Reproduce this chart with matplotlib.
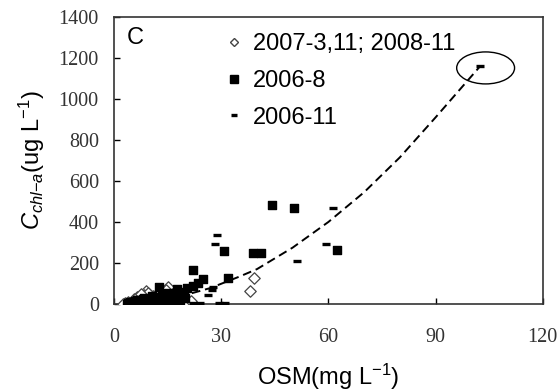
import matplotlib
matplotlib.use("Agg")
import matplotlib.pyplot as plt
from matplotlib.lines import Line2D
from matplotlib.patches import Ellipse

plt.rcParams['font.family'] = ['Liberation Sans', 'DejaVu Sans']
plt.rcParams['mathtext.fontset'] = 'custom'
plt.rcParams['mathtext.rm'] = 'Liberation Sans'
plt.rcParams['mathtext.it'] = 'Liberation Sans:italic'
plt.rcParams['mathtext.bf'] = 'Liberation Sans:bold'

# 2007-3,11; 2008-11 (open diamonds)
dia_x = [38.0, 39.3, 9.0, 15.2, 3.0, 4.0, 5.0, 6.0, 7.0, 8.0, 10.0, 11.0, 12.0, 13.0, 14.0,
         16.0, 18.0, 20.0, 2.5, 5.5, 8.5, 11.5, 6.5, 9.5, 12.5, 14.5, 17.0, 19.0, 21.5, 7.5]
dia_y = [65, 125, 65, 82, 3, 8, 12, 5, 20, 15, 30, 40, 25, 50, 35, 20, 15, 10, 2, 25, 45, 10,
         35, 55, 60, 70, 40, 30, 15, 48]

# 2006-8 (filled squares)
sq_x = [44.3, 50.4, 30.8, 39.0, 41.0, 62.5, 32.0, 24.8, 22.0, 23.6, 22.2, 20.3, 17.5, 12.7,
        19.5, 15.0, 10.5, 8.5, 7.0, 6.0, 9.5, 11.5, 13.5, 16.0, 18.5, 5.0, 4.0,
        4.5, 5.5, 6.5, 7.5, 8.0, 9.0, 10.0, 11.0, 12.0, 13.0, 14.0, 15.5, 17.0, 18.0, 19.0, 20.0,
        3.5, 6.0, 8.5, 11.0, 13.5, 16.5]
sq_y = [483, 467, 258, 250, 250, 263, 128, 122, 166, 101, 89, 76, 72, 85,
        60, 55, 40, 30, 20, 15, 25, 35, 45, 30, 20, 8, 4,
        10, 12, 18, 8, 22, 12, 18, 10, 20, 15, 25, 12, 40, 8, 50, 30,
        2, 5, 5, 5, 8, 6]

# 2006-11 (dashes)
ds_x = [102.4, 61.3, 59.3, 51.1, 28.9, 28.3, 27.8, 27.3, 26.4, 22.0, 24.0, 29.5, 31.0,
        4.0, 6.0, 8.0, 10.0, 12.0, 14.0, 16.0, 18.0]
ds_y = [1158, 470, 291, 211, 338, 291, 85, 68, 44, 5, 5, 5, 3,
        3, 8, 15, 20, 30, 28, 40, 45]

# fitted trend
fit_x = [3, 10, 20, 27, 35, 40, 50, 60, 70, 80, 90, 102.4]
fit_y = [1, 11, 44, 78, 133, 170, 275, 400, 545, 715, 910, 1158]

x_ticks = [0, 30, 60, 90, 120]
y_ticks = [0, 200, 400, 600, 800, 1000, 1200, 1400]

fig = plt.figure(figsize=(5.59, 3.92), dpi=100)
ax = fig.add_axes([0.204, 0.2245, 0.767, 0.7325])

ax.plot(fit_x, fit_y, color='black', linestyle=(0, (4.5, 2.5)), linewidth=1.4, zorder=2)
ax.scatter(dia_x, dia_y, marker='D', s=34, facecolors='white', edgecolors='#444444',
           linewidths=0.9, zorder=3)
ax.scatter(sq_x, sq_y, marker='s', s=40, color='black', zorder=4)
ax.scatter(ds_x, ds_y, marker='_', s=28, color='black', linewidths=2.4, zorder=5)

ax.add_patch(Ellipse((104, 1151), 16.2, 156, fill=False, edgecolor='black', linewidth=1.0))

ax.set_xlim(0, 120)
ax.set_ylim(0, 1400)
ax.set_xticks(x_ticks)
ax.set_yticks(y_ticks)
ax.tick_params(direction='in', length=4, width=1, colors='black')
for lab in ax.get_xticklabels() + ax.get_yticklabels():
    lab.set_fontfamily('Liberation Serif')
    lab.set_fontsize(14.5)
    lab.set_color('#333333')
ax.tick_params(axis='x', pad=17)
ax.tick_params(axis='y', pad=11)
for s in ax.spines.values():
    s.set_linewidth(1.2)
    s.set_color('#333333')

ax.set_xlabel(r'OSM(mg L$^{-1}$)', fontsize=17, labelpad=11)
ax.set_ylabel(r'$C_{chl\mathrm{-}a}$(ug L$^{-1}$)', fontsize=17, labelpad=8)

ax.text(0.03, 0.925, 'C', transform=ax.transAxes, fontsize=17, va='center', ha='left')

handles = [
    Line2D([], [], marker='D', linestyle='none', markersize=4, markerfacecolor='white',
           markeredgecolor='#444444'),
    Line2D([], [], marker='s', linestyle='none', markersize=6, color='black'),
    Line2D([], [], marker='_', linestyle='none', markersize=5, markeredgewidth=2.4, color='black'),
]
labels = ['2007-3,11; 2008-11', '2006-8', '2006-11']
ax.legend(handles, labels, loc='upper left', bbox_to_anchor=(0.23, 0.975), frameon=False,
          fontsize=17, handlelength=1.0, handletextpad=0.3, labelspacing=0.62,
          borderaxespad=0.0)

fig.savefig('out.png', dpi=100)
